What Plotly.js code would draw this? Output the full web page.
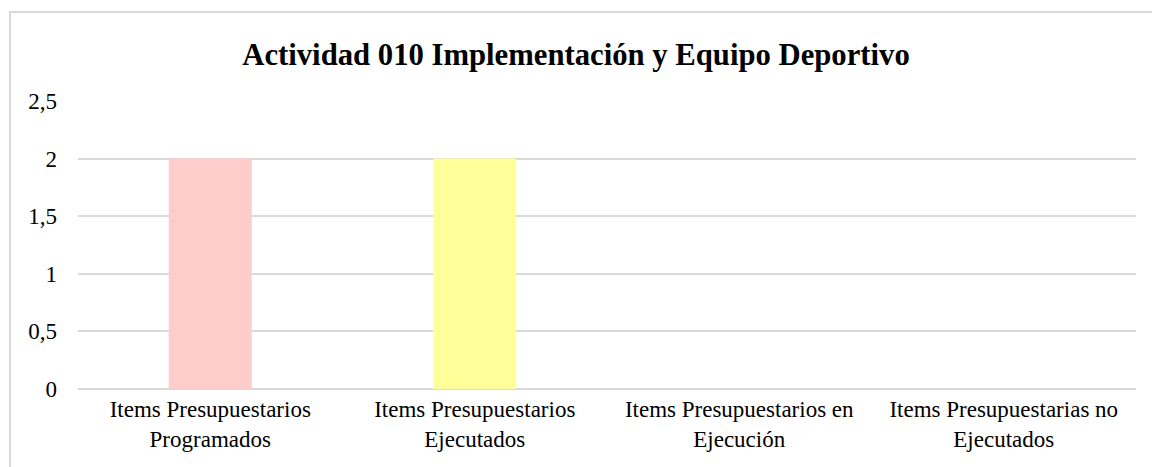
<!DOCTYPE html>
<html>
<head>
<meta charset="utf-8">
<script src="https://cdn.plot.ly/plotly-3.0.1.min.js"></script>
<style>
  html, body { margin: 0; padding: 0; background: #fff; }
  #wrap { position: relative; width: 1152px; height: 467px; overflow: hidden; }
  #chart { width: 1152px; height: 467px; }
  #frame { position: absolute; left: 9px; top: 11px; width: 1200px; height: 600px;
           border: 2px solid #d9d9d9; pointer-events: none; box-sizing: border-box; }
</style>
</head>
<body>
<div id="wrap">
  <div id="chart"></div>
  <div id="frame"></div>
</div>
<script>
const chartTitle = "Actividad 010 Implementación y Equipo Deportivo";
const categories = [
  "Items Presupuestarios<br>Programados",
  "Items Presupuestarios<br>Ejecutados",
  "Items Presupuestarios en<br>Ejecución",
  "Items Presupuestarias no<br>Ejecutados"
];
const values = [2, 2, 0, 0];
const barColors = ["#FFCCCC", "#FFFF99", "#CCFFCC", "#CCECFF"];
const yTicks = [0, 0.5, 1, 1.5, 2, 2.5];

const serif = "Liberation Serif, Times New Roman, serif";

Plotly.newPlot("chart", [{
  type: "bar",
  x: categories,
  y: values,
  marker: { color: barColors },
  hoverinfo: "x+y"
}], {
  width: 1152, height: 467,
  margin: { l: 78, r: 16, t: 101, b: 78 },
  separators: ",.",
  paper_bgcolor: "#fff",
  plot_bgcolor: "#fff",
  bargap: 0.686,
  showlegend: false,
  title: {
    text: "<b>" + chartTitle + "</b>",
    font: { family: serif, size: 30.7, color: "#000" },
    x: 0.5, xanchor: "center",
    y: 1 - 54 / 467, yanchor: "middle"
  },
  font: { family: serif, size: 23, color: "#000" },
  xaxis: {
    type: "category",
    showgrid: false,
    showline: false,
    zeroline: false,
    ticks: "",
    tickfont: { family: serif, size: 23, color: "#000" },
    ticklabelstandoff: 4
  },
  yaxis: {
    range: [0, 2.5],
    tickvals: yTicks,
    showgrid: true,
    gridcolor: "#d9d9d9",
    gridwidth: 1.5,
    zeroline: true,
    zerolinecolor: "#d9d9d9",
    zerolinewidth: 1.5,
    showline: false,
    ticks: "",
    tickfont: { family: serif, size: 23, color: "#000" },
    ticklabelstandoff: 20
  }
}, { displayModeBar: false, staticPlot: false });
</script>
</body>
</html>
